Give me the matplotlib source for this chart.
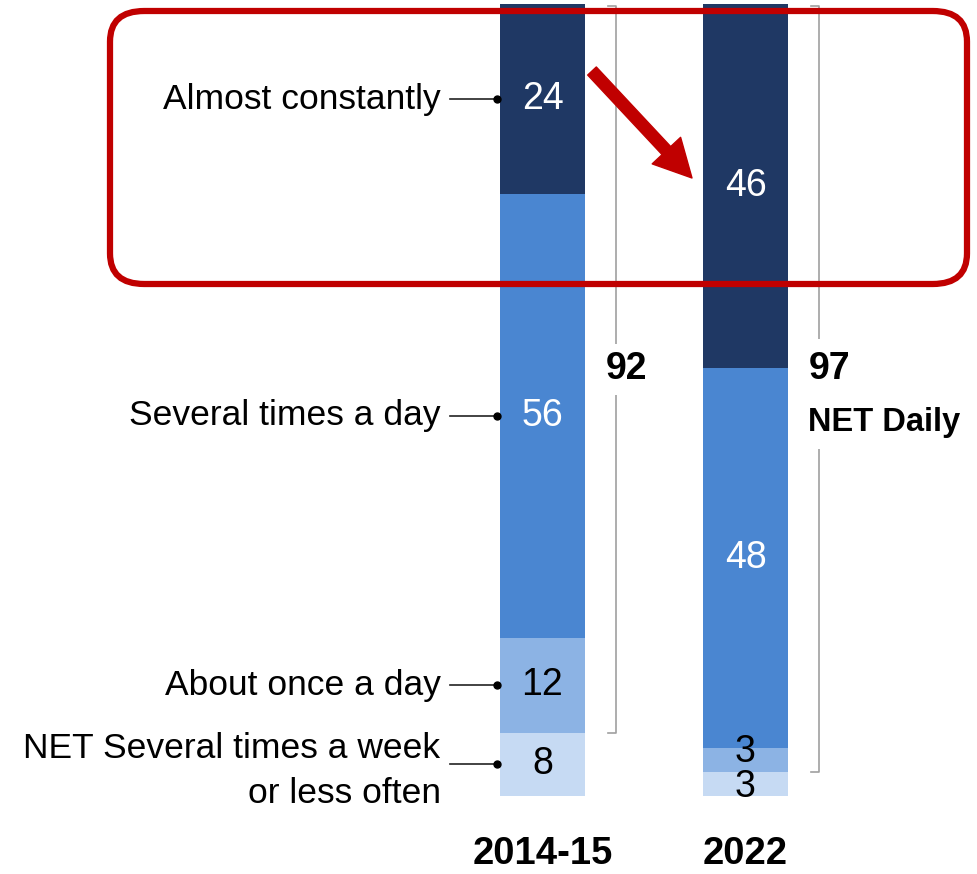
import matplotlib.pyplot as plt
from matplotlib.patches import FancyBboxPatch, FancyArrowPatch

years = ['2014-15', '2022']
labels = ['NET Several times a week\nor less often', 'About once a day',
          'Several times a day', 'Almost constantly']
less_often = [8, 3]
once_a_day = [12, 3]
several_day = [56, 48]
constantly = [24, 46]
net_daily = [92, 97]

series = [less_often, once_a_day, several_day, constantly]
cols = ['#c6daf3', '#8cb3e4', '#4a86d1', '#1f3864']
txt_cols = ['black', 'black', 'white', 'white']

plt.rcParams['font.family'] = ['Liberation Sans', 'DejaVu Sans']

fig = plt.figure(figsize=(9.78, 8.74), dpi=100)
ax = fig.add_axes([0, 78 / 874, 1, 792 / 874])
ax.set_xlim(-542.5 / 203, (978 - 542.5) / 203)
ax.set_ylim(0, 100)
ax.axis('off')

x = [0, 1]
w = 0.42
bottom = [0, 0]
for k, s in enumerate(series):
    ax.bar(x, s, w, bottom=bottom, color=cols[k], linewidth=0)
    for i in range(2):
        yc = bottom[i] + s[i] / 2
        if s[i] < 5 and k > 0:
            yc += 1.0
        elif s[i] < 5:
            yc -= 0.4
        ax.text(x[i], yc, str(s[i]), ha='center', va='center',
                fontsize=27, color=txt_cols[k])
    # left labels for the first bar
    yl = bottom[0] + s[0] / 2
    ax.plot([-0.456, -0.226], [yl, yl], color='#222222', lw=1.2)
    ax.plot([-0.226], [yl], 'o', color='black', ms=5)
    ax.text(-0.502, yl - (0.8 if k == 0 else 0), labels[k], ha='right', va='center',
            fontsize=25.5, linespacing=1.45)
    bottom = [bottom[i] + s[i] for i in range(2)]

# brackets for NET daily
for i in range(2):
    bx = x[i] + 0.36
    lo = 100 - net_daily[i]
    ax.plot([bx - 0.035, bx, bx, bx - 0.035], [99.8, 99.8, lo, lo],
            color='#a0a0a0', lw=1.2, clip_on=False)

box_w = dict(facecolor='white', edgecolor='none', pad=5)
ax.text(0.31, 52.6, str(net_daily[0]), ha='left', va='baseline', fontsize=27,
        fontweight='bold', bbox=box_w)
ax.text(1.31, 52.6, str(net_daily[1]), ha='left', va='baseline', fontsize=27,
        fontweight='bold', bbox=dict(facecolor='white', edgecolor='none', pad=9))
ax.text(1.31, 46.1, 'NET Daily', ha='left', va='baseline', fontsize=23.5,
        fontweight='bold', bbox=dict(facecolor='white', edgecolor='none', pad=8))

for i in range(2):
    ax.text(x[i], -7.3, years[i], ha='center', va='center', fontsize=27.5,
            fontweight='bold', clip_on=False)

# red highlight box and arrow
box = FancyBboxPatch((110 / 978, 1 - 284 / 874), 857 / 978, 273 / 874,
                     boxstyle='round,pad=0,rounding_size=0.035',
                     transform=fig.transFigure, facecolor='none',
                     edgecolor='#c00000', lw=4.5)
fig.patches.append(box)

arr = FancyArrowPatch((592 / 978, 1 - 71 / 874), (692 / 978, 1 - 178 / 874),
                      transform=fig.transFigure,
                      arrowstyle='simple,head_length=27,head_width=28,tail_width=8.5',
                      mutation_scale=1, color='#c00000', shrinkA=0, shrinkB=0)
fig.patches.append(arr)

fig.savefig('out.png', dpi=100)
